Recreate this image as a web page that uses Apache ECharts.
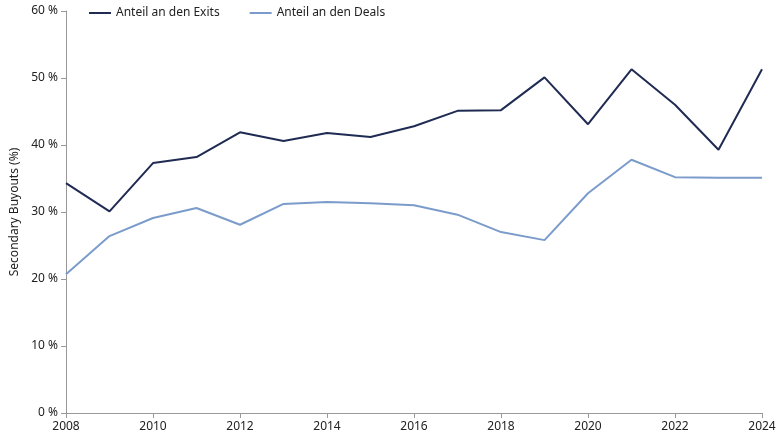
<!DOCTYPE html>
<html><head><meta charset="utf-8">
<script src="https://cdn.jsdelivr.net/npm/echarts@6/dist/echarts.min.js"></script>
<style>html,body{margin:0;padding:0;background:#fff}#c{width:780px;height:440px}</style>
</head><body><div id="c"></div>
<script>
const years=[2008,2009,2010,2011,2012,2013,2014,2015,2016,2017,2018,2019,2020,2021,2022,2023,2024];
const exits=[34.3,30.1,37.3,38.2,41.9,40.6,41.8,41.2,42.8,45.1,45.2,50.1,43.1,51.3,46.0,39.3,51.3];
const deals=[20.7,26.4,29.1,30.6,28.1,31.2,31.5,31.3,31.0,29.6,27.0,25.8,32.8,37.8,35.2,35.1,35.1];
const ff='"Noto Sans", sans-serif';
const chart=echarts.init(document.getElementById('c'));
chart.setOption({
 animation:false,
 grid:{left:66,right:18,top:11,bottom:27},
 legend:{left:84,top:2,itemWidth:22,itemHeight:2,itemGap:30,icon:'rect',
  textStyle:{fontFamily:ff,fontSize:12,color:'#222'},
  data:['Anteil an den Exits','Anteil an den Deals']},
 xAxis:{type:'value',min:2008,max:2024,interval:2,
  axisLine:{lineStyle:{color:'#999'}},axisTick:{show:true,lineStyle:{color:'#999'}},splitLine:{show:false},
  axisLabel:{fontFamily:ff,fontSize:12,color:'#222',formatter:v=>String(v)}},
 yAxis:{type:'value',min:0,max:60,interval:10,name:'Secondary Buyouts (%)',nameLocation:'middle',nameGap:44,
  nameTextStyle:{fontFamily:ff,fontSize:12,color:'#222'},
  axisLine:{show:true,lineStyle:{color:'#999'}},axisTick:{show:true,lineStyle:{color:'#999'}},splitLine:{show:false},
  axisLabel:{fontFamily:ff,fontSize:12,color:'#222',formatter:v=>v+' %'}},
 series:[
  {name:'Anteil an den Exits',type:'line',symbol:'none',data:years.map((y,i)=>[y,exits[i]]),
   lineStyle:{color:'#1f2b52',width:2},itemStyle:{color:'#1f2b52'}},
  {name:'Anteil an den Deals',type:'line',symbol:'none',data:years.map((y,i)=>[y,deals[i]]),
   lineStyle:{color:'#7b9ccb',width:2},itemStyle:{color:'#7b9ccb'}}
 ]
});
</script></body></html>
